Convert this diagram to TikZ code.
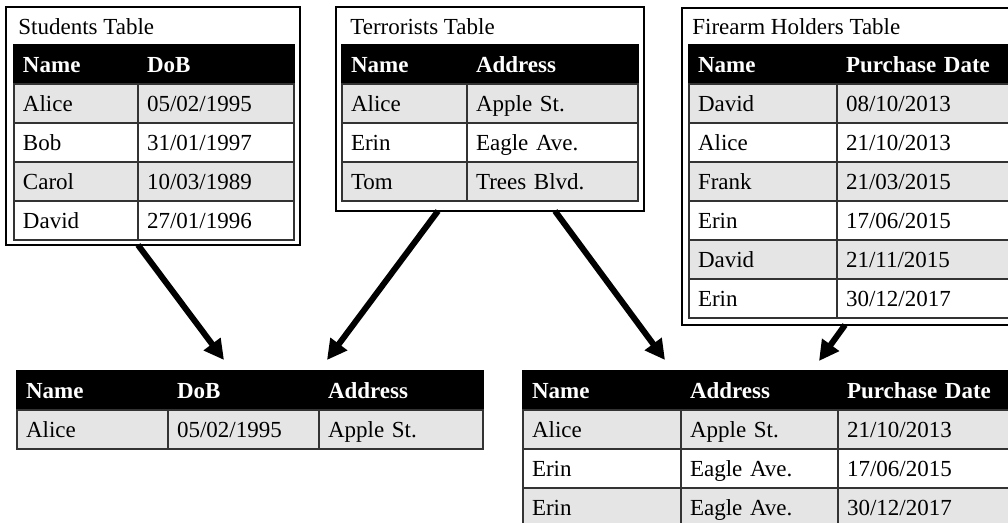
\documentclass[tikz,border=0pt]{standalone}
\usepackage{fontspec}
\setmainfont{Liberation Serif}
\usetikzlibrary{arrows.meta,calc}

\newcommand{\cellfont}{\fontsize{11.5pt}{13.8pt}\selectfont}

\begin{document}
\begin{tikzpicture}[
    x=0.5pt, y=-0.5pt,
    >={Triangle[length=10pt,width=10pt]},
    tabframe/.style={draw, line width=0.75pt, fill=white, anchor=north west,
                     inner sep=0pt, outer sep=0pt},
    cellbase/.style={draw=black!80, line width=0.9pt, anchor=north west,
                     inner xsep=4.5pt, inner ysep=0pt, outer sep=0pt,
                     minimum height=19.5pt, text height=7.6pt, text depth=0pt,
                     align=left, font=\cellfont},
    hcell/.style={cellbase, draw=black, fill=black, text=white,
                  font=\cellfont\bfseries, text width=#1},
    dcell/.style={cellbase, text width=#1},
    title/.style={anchor=base west, inner sep=0pt, font=\cellfont},
    arr/.style={->, line width=3pt},
  ]
  \useasboundingbox (0,0) rectangle (1008,523);
  \clip (0,0) rectangle (1008,523);

  % students
  \node[tabframe, minimum width=147pt, minimum height=119pt] (stud) at (6,7) {};
  \node[title] (studT) at (18,35) {Students Table};
  \node[hcell=53pt] (studH1) at (14,45) {Name};
  \node[hcell=69pt] (studH2) at (138,45) {DoB};
  \foreach \nm/\dt [count=\i, evaluate=\i as \shade using {int(mod(\i,2)*10)}]
      in {Alice/{05/02/1995}, Bob/{31/01/1997}, Carol/{10/03/1989}, David/{27/01/1996}} {
    \node[dcell=53pt, fill=black!\shade] (stud\i-1) at (14,45+39*\i) {\nm};
    \node[dcell=69pt, fill=black!\shade] (stud\i-2) at (138,45+39*\i) {\dt};
  }

  % terrorists
  \node[tabframe, minimum width=154pt, minimum height=102pt] (terr) at (336,7) {};
  \node[title] (terrT) at (350,35) {Terrorists Table};
  \node[hcell=53.5pt] (terrH1) at (342,45) {Name};
  \node[hcell=76.5pt] (terrH2) at (467,45) {Address};
  \foreach \nm/\ad [count=\i, evaluate=\i as \shade using {int(mod(\i,2)*10)}]
      in {Alice/Apple St., Erin/Eagle Ave., Tom/Trees Blvd.} {
    \node[dcell=53.5pt, fill=black!\shade] (terr\i-1) at (342,45+39*\i) {\nm};
    \node[dcell=76.5pt, fill=black!\shade] (terr\i-2) at (467,45+39*\i) {\ad};
  }

  % firearm holders
  \node[tabframe, minimum width=168pt, minimum height=158.5pt] (fire) at (682,8) {};
  \node[title] (fireT) at (692,35) {Firearm Holders Table};
  \node[hcell=65pt] (fireH1) at (689,45) {Name};
  \node[hcell=78.5pt] (fireH2) at (837,45) {Purchase Date};
  \foreach \nm/\dt [count=\i, evaluate=\i as \shade using {int(mod(\i,2)*10)}]
      in {David/{08/10/2013}, Alice/{21/10/2013}, Frank/{21/03/2015},
          Erin/{17/06/2015}, David/{21/11/2015}, Erin/{30/12/2017}} {
    \node[dcell=65pt, fill=black!\shade] (fire\i-1) at (689,45+39*\i) {\nm};
    \node[dcell=78.5pt, fill=black!\shade] (fire\i-2) at (837,45+39*\i) {\dt};
  }

  % join students / terrorists
  \node[hcell=66.5pt] (resH1) at (17,371) {Name};
  \node[hcell=66.5pt] (resH2) at (168,371) {DoB};
  \node[hcell=73pt] (resH3) at (319,371) {Address};
  \node[dcell=66.5pt, fill=black!10] (res1-1) at (17,410) {Alice};
  \node[dcell=66.5pt, fill=black!10] (res1-2) at (168,410) {05/02/1995};
  \node[dcell=73pt, fill=black!10] (res1-3) at (319,410) {Apple St.};

  % join terrorists / firearm holders
  \node[hcell=70pt] (matH1) at (523,371) {Name};
  \node[hcell=69.5pt] (matH2) at (681,371) {Address};
  \node[hcell=78pt] (matH3) at (838,371) {Purchase Date};
  \foreach \nm/\ad/\dt [count=\i, evaluate=\i as \shade using {int(mod(\i,2)*10)}]
      in {Alice/Apple St./{21/10/2013}, Erin/Eagle Ave./{17/06/2015},
          Erin/Eagle Ave./{30/12/2017}} {
    \node[dcell=70pt, fill=black!\shade] (mat\i-1) at (523,371+39*\i) {\nm};
    \node[dcell=69.5pt, fill=black!\shade] (mat\i-2) at (681,371+39*\i) {\ad};
    \node[dcell=78pt, fill=black!\shade] (mat\i-3) at (838,371+39*\i) {\dt};
  }

  % arrows
  \draw[arr] ($(stud.south)+(-15,0)$) -- ($(resH2.north west)+(56,-11)$);
  \draw[arr] ($(terr.south)+(-52,0)$) -- ($(resH3.north west)+(8,-11)$);
  \draw[arr] ($(terr.south)+(65,0)$) -- ($(matH2.north west)+(-16,-11)$);
  \draw[arr] ($(fire.south)+(-5,0)$) -- ($(matH3.north west)+(-19,-10)$);
\end{tikzpicture}
\end{document}
